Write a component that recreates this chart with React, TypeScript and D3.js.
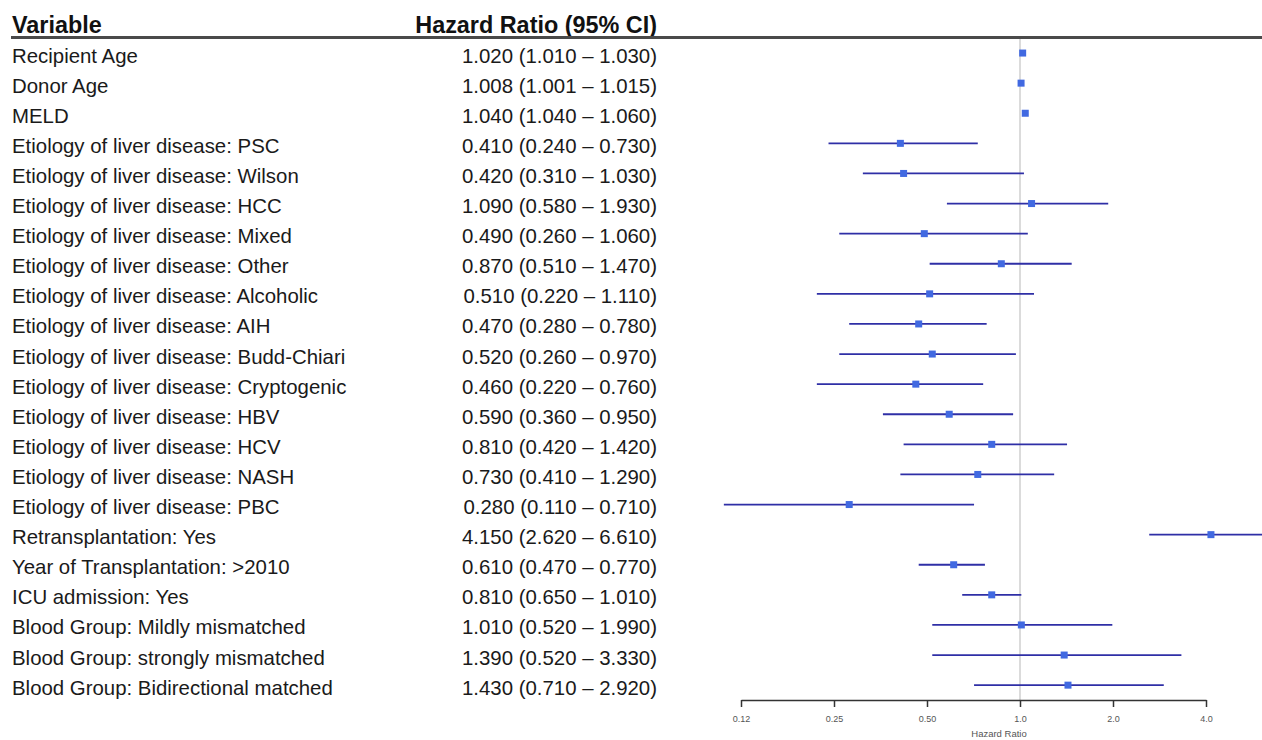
import React, { useRef, useEffect } from 'react';
import * as d3 from 'd3';

const variables = [
  'Recipient Age',
  'Donor Age',
  'MELD',
  'Etiology of liver disease: PSC',
  'Etiology of liver disease: Wilson',
  'Etiology of liver disease: HCC',
  'Etiology of liver disease: Mixed',
  'Etiology of liver disease: Other',
  'Etiology of liver disease: Alcoholic',
  'Etiology of liver disease: AIH',
  'Etiology of liver disease: Budd-Chiari',
  'Etiology of liver disease: Cryptogenic',
  'Etiology of liver disease: HBV',
  'Etiology of liver disease: HCV',
  'Etiology of liver disease: NASH',
  'Etiology of liver disease: PBC',
  'Retransplantation: Yes',
  'Year of Transplantation: >2010',
  'ICU admission: Yes',
  'Blood Group: Mildly mismatched',
  'Blood Group: strongly mismatched',
  'Blood Group: Bidirectional matched',
];

const hr = [1.02, 1.008, 1.04, 0.41, 0.42, 1.09, 0.49, 0.87, 0.51, 0.47, 0.52, 0.46, 0.59, 0.81, 0.73, 0.28, 4.15, 0.61, 0.81, 1.01, 1.39, 1.43];
const lower = [1.01, 1.001, 1.04, 0.24, 0.31, 0.58, 0.26, 0.51, 0.22, 0.28, 0.26, 0.22, 0.36, 0.42, 0.41, 0.11, 2.62, 0.47, 0.65, 0.52, 0.52, 0.71];
const upper = [1.03, 1.015, 1.06, 0.73, 1.03, 1.93, 1.06, 1.47, 1.11, 0.78, 0.97, 0.76, 0.95, 1.42, 1.29, 0.71, 6.61, 0.77, 1.01, 1.99, 3.33, 2.92];

const tickValues = [0.125, 0.25, 0.5, 1, 2, 4];
const tickLabels = ['0.12', '0.25', '0.50', '1.0', '2.0', '4.0'];

const W = 1262;
const H = 740;

const App = () => {
  const ref = useRef<SVGSVGElement>(null);

  useEffect(() => {
    const svg = d3.select(ref.current);
    svg.selectAll('*').remove();

    const data = variables.map((v, i) => ({ v, hr: hr[i], lo: lower[i], hi: upper[i] }));
    const fmt = d3.format('.3f');

    const x = d3.scaleLog().domain([0.125, 4]).range([741, 1206]);
    const y = d3.scaleBand().domain(variables).range([39, 39 + variables.length * 30.1]);
    const yc = (v: string) => (y(v) as number) + y.bandwidth() / 2;

    const font = 'Liberation Sans, Arial, sans-serif';

    // reference line at 1
    svg.append('line')
      .attr('x1', x(1)).attr('x2', x(1))
      .attr('y1', 38).attr('y2', 700)
      .attr('stroke', '#cfcfcf')
      .attr('stroke-width', 1.5);

    // header
    svg.append('text')
      .attr('x', 12).attr('y', 33)
      .attr('font-family', font).attr('font-size', 23.4).attr('font-weight', 'bold')
      .attr('fill', '#111')
      .text('Variable');
    svg.append('text')
      .attr('x', 657).attr('y', 33)
      .attr('text-anchor', 'end')
      .attr('font-family', font).attr('font-size', 23.4).attr('font-weight', 'bold')
      .attr('fill', '#111')
      .text('Hazard Ratio (95% CI)');
    svg.append('line')
      .attr('x1', 11).attr('x2', W)
      .attr('y1', 37.5).attr('y2', 37.5)
      .attr('stroke', '#4a4a4a')
      .attr('stroke-width', 3);

    // row labels
    const rows = svg.append('g');
    rows.selectAll('.lab')
      .data(data)
      .enter()
      .append('text')
      .attr('x', 12)
      .attr('y', d => yc(d.v) + 8.5)
      .attr('font-family', font).attr('font-size', 20.4)
      .attr('fill', '#1a1a1a')
      .text(d => d.v);
    rows.selectAll('.val')
      .data(data)
      .enter()
      .append('text')
      .attr('x', 657)
      .attr('y', d => yc(d.v) + 8.5)
      .attr('text-anchor', 'end')
      .attr('font-family', font).attr('font-size', 20.4)
      .attr('fill', '#1a1a1a')
      .text(d => `${fmt(d.hr)} (${fmt(d.lo)} \u2013 ${fmt(d.hi)})`);

    // CI lines
    svg.selectAll('.ci')
      .data(data)
      .enter()
      .append('line')
      .attr('x1', d => x(d.lo))
      .attr('x2', d => x(d.hi))
      .attr('y1', d => yc(d.v) - 1)
      .attr('y2', d => yc(d.v) - 1)
      .attr('stroke', '#2f2fa6')
      .attr('stroke-width', 1.8);

    // point estimates
    const s = 7;
    svg.selectAll('.pt')
      .data(data)
      .enter()
      .append('rect')
      .attr('x', d => x(d.hr) - s / 2)
      .attr('y', d => yc(d.v) - 1 - s / 2)
      .attr('width', s).attr('height', s)
      .attr('fill', '#4169e1');

    // axis
    const axis = d3.axisBottom(x)
      .tickValues(tickValues)
      .tickFormat((d, i) => tickLabels[i])
      .tickSize(7)
      .tickSizeOuter(0)
      .tickPadding(9);
    const ag = svg.append('g')
      .attr('transform', 'translate(0,700)')
      .call(axis);
    ag.select('.domain').attr('stroke', '#333').attr('stroke-width', 1.5);
    ag.selectAll('.tick line').attr('stroke', '#333').attr('stroke-width', 1.5);
    ag.selectAll('.tick text')
      .attr('font-family', font).attr('font-size', 9)
      .attr('fill', '#555');

    svg.append('text')
      .attr('x', 999).attr('y', 737)
      .attr('text-anchor', 'middle')
      .attr('font-family', font).attr('font-size', 9.5)
      .attr('fill', '#555')
      .text('Hazard Ratio');
  }, []);

  return (
    <svg
      ref={ref}
      width={W}
      height={H}
      style={{ position: 'absolute', left: 0, top: 0, background: '#fff' }}
    ></svg>
  );
};

export default App;
